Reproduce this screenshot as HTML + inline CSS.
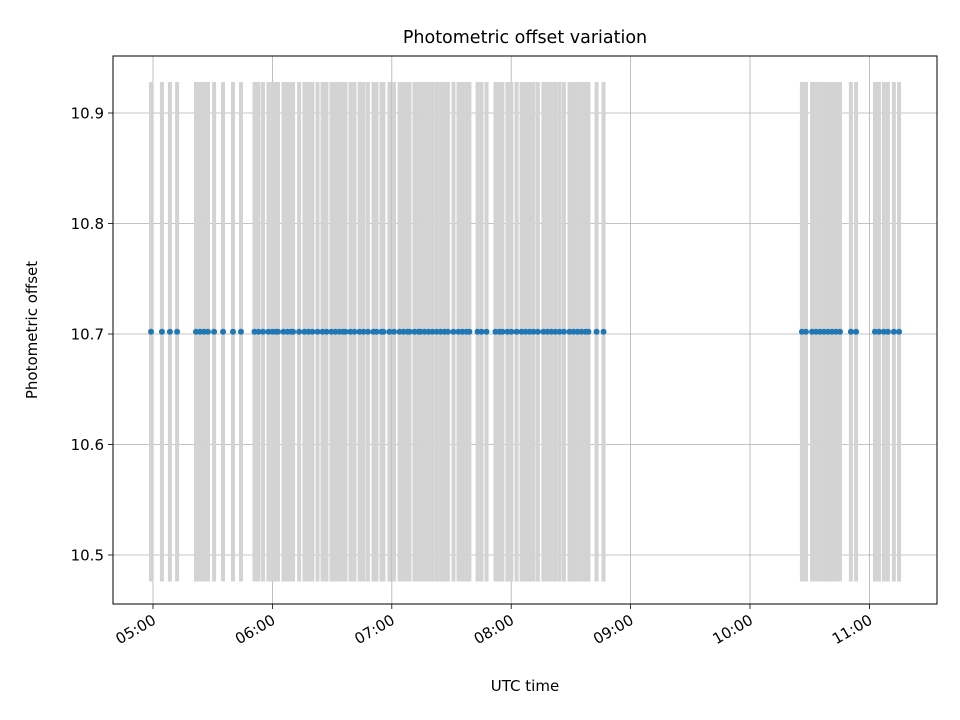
<!DOCTYPE html>
<html><head><meta charset="utf-8"><style>body{margin:0;background:#fff}svg{display:block;font-family:"DejaVu Sans","Liberation Sans",sans-serif}</style></head>
<body>
<svg id="chart" width="960" height="720" xmlns="http://www.w3.org/2000/svg">
<rect width="960" height="720" fill="#fff"/>
<g id="grid"></g><g id="bars"></g><g id="pts"></g><g id="axes"></g>
<text x="525" y="43" text-anchor="middle" font-size="17.5">Photometric offset variation</text>
<text x="525" y="691" text-anchor="middle" font-size="15">UTC time</text>
<text transform="translate(37,330) rotate(-90)" text-anchor="middle" font-size="15">Photometric offset</text>
</svg>
<script>
// minutes after 05:00 UTC
const times=[-1.0,4.5,8.5,12.1,21.6,23.6,25.6,27.6,30.7,35.2,40.2,44.2,
51.0,53.0,55.3,58.0,60.0,61.8,62.8,65.6,67.6,69.4,70.4,73.4,76.1,78.1,80.1,82.7,85.2,87.2,
89.7,91.7,93.7,95.5,96.7,99.2,101.2,103.8,105.8,108.0,110.8,112.3,114.8,115.8,118.8,121.1,
123.9,125.9,127.9,128.9,131.4,133.4,134.4,136.4,138.4,140.4,142.5,144.5,146.5,148.2,151.0,
153.5,155.5,157.5,159.0,163.1,165.1,167.6,172.1,174.1,175.6,178.1,180.1,182.7,
185.2,187.2,189.2,191.2,193.4,196.2,198.2,200.2,202.2,204.3,206.5,
209.3,211.3,213.3,215.3,217.3,218.8,222.9,226.4,
326.1,328.1,331.2,333.2,335.2,337.2,339.2,341.2,343.2,345.2,350.7,353.3,362.8,364.8,367.3,369.3,372.3,374.9];
const offsets=times.map(()=>10.702);
const errors=times.map(()=>0.226);
const yTicks=[10.5,10.6,10.7,10.8,10.9];
const xTickMins=[0,60,120,180,240,300,360];
const xTickLabels=["05:00","06:00","07:00","08:00","09:00","10:00","11:00"];

const L=113,R=937,T=56,B=604;
const xs=m=>153+m*(119.4/60);
const ys=v=>555-(v-10.5)*1105;
const NS="http://www.w3.org/2000/svg";
function mk(tag,attrs,parent,text){const e=document.createElementNS(NS,tag);for(const k in attrs)e.setAttribute(k,attrs[k]);if(text!==undefined)e.textContent=text;document.getElementById(parent).appendChild(e);return e;}
xTickMins.forEach((m,i)=>{const x=xs(m);
 const g=mk('line',{x1:x,x2:x,y1:T,y2:B,stroke:'#b0b0b0','stroke-width':0.8},'grid');
 
 
 const t=mk('line',{x1:x,x2:x,y1:B,y2:B+5,stroke:'#000','stroke-width':0.8},'axes');
 
 
 const lx=x+4,ly=B+19;
 const l=mk('text',{x:lx,y:ly,'text-anchor':'end','font-size':15,transform:`rotate(-30 ${lx} ${ly})`},'axes',xTickLabels[i]);
 
 
});
yTicks.forEach(v=>{const y=ys(v);
 const g=mk('line',{x1:L,x2:R,y1:y,y2:y,stroke:'#b0b0b0','stroke-width':0.8},'grid');
 
 
 const t=mk('line',{x1:L-5,x2:L,y1:y,y2:y,stroke:'#000','stroke-width':0.8},'axes');
 
 
 const l=mk('text',{x:L-9,y:y+5.5,'text-anchor':'end','font-size':15},'axes',v.toFixed(1));
 
 
});
times.forEach((m,i)=>{const x=xs(m);
 const b=mk('line',{x1:x,x2:x,y1:ys(offsets[i]+errors[i]),y2:ys(offsets[i]-errors[i]),stroke:'#d3d3d3','stroke-width':4},'bars');
 
 
});
times.forEach((m,i)=>{
 const c=mk('circle',{cx:xs(m),cy:ys(offsets[i]),r:3,fill:'#1f77b4'},'pts');
 
 
});
const f=mk('rect',{x:L,y:T,width:R-L,height:B-T,fill:'none',stroke:'#000','stroke-width':1},'axes');


</script>
</body></html>
